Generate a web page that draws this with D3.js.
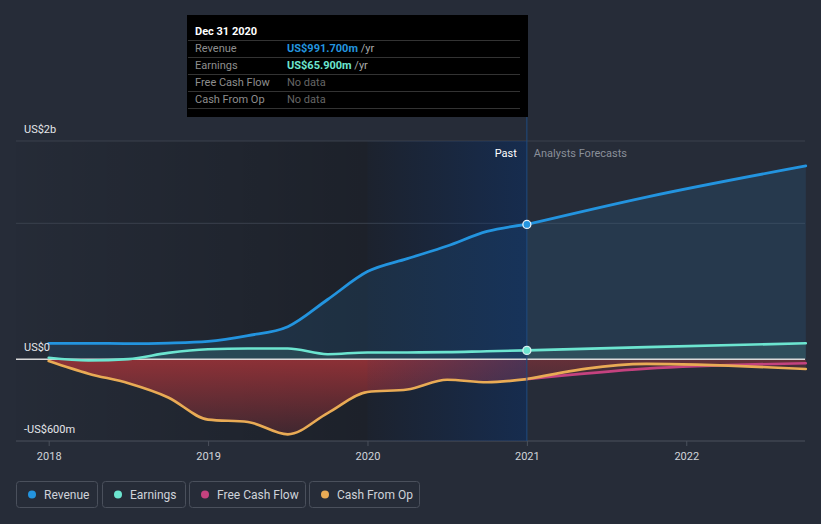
<!DOCTYPE html>
<html>
<head>
<meta charset="utf-8">
<script src="https://cdn.jsdelivr.net/npm/d3@7"></script>
<style>
  html, body { margin: 0; padding: 0; background: #262c38; }
  svg { display: block; font-family: Roboto, "Noto Sans", sans-serif; }
</style>
</head>
<body>
<svg id="chart" width="821" height="524"></svg>
<script>
// ---- data ----
const pastDates      = [2018, 2018.25, 2018.5, 2018.75, 2019, 2019.25, 2019.5, 2019.75, 2020, 2020.25, 2020.5, 2020.75, 2021];
const revenuePast    = [118, 118, 116, 120, 132, 175, 240, 440, 645, 740, 833, 940, 991.7];
const earningsPast   = [12, -8, 2, 48, 74, 80, 80, 38, 51, 51, 53, 60, 65.9];
const cashFromOpPast = [-12, -105, -176, -280, -443, -460, -551, -395, -240, -222, -150, -168, -145];

const forecastDates       = [2021, 2021.75, 2022.75];
const revenueForecast     = [991.7, 1193, 1422];
const earningsForecast    = [65.9, 90, 118];
const freeCashFlowForecast= [-145, -68, -29];
const cashFromOpForecast  = [-145, -33, -71];

const xTickValues = [2018, 2019, 2020, 2021, 2022];
const yTickValues = [1605, 1000, 0, -600];
const yTickLabels = ["US$2b", "", "US$0", "-US$600m"];

const legendNames  = ["Revenue", "Earnings", "Free Cash Flow", "Cash From Op"];
const legendColors = ["#2394df", "#6ce5d0", "#c4427f", "#e9ab55"];

const tooltipDate   = "Dec 31 2020";
const tooltipLabels = ["Revenue", "Earnings", "Free Cash Flow", "Cash From Op"];
const tooltipValues = ["US$991.700m", "US$65.900m", "No data", "No data"];

// ---- scales ----
const svg = d3.select("#chart");
const x = d3.scaleLinear().domain([2018, 2022.75]).range([48.7, 805.8]);
const y = d3.scaleLinear().domain([-600, 1605]).range([441, 141]);
const plotL = 16, plotR = 805, plotT = 141, plotB = 441;
const xNow = x(2021);

const zip = (d, v) => d.map((t, i) => ({t, v: v[i]}));

const defs = svg.append("defs");
const g1 = defs.append("linearGradient").attr("id", "pastDark").attr("x1", 0).attr("x2", 1).attr("y1", 0).attr("y2", 0);
g1.append("stop").attr("offset", "0").attr("stop-color", "#000").attr("stop-opacity", 0.02);
g1.append("stop").attr("offset", "0.68").attr("stop-color", "#000").attr("stop-opacity", 0.25);
g1.append("stop").attr("offset", "1").attr("stop-color", "#000").attr("stop-opacity", 0.25);

const g2 = defs.append("linearGradient").attr("id", "hilite").attr("x1", 0).attr("x2", 1).attr("y1", 0).attr("y2", 0);
g2.append("stop").attr("offset", "0").attr("stop-color", "#0f3773").attr("stop-opacity", 0.05);
g2.append("stop").attr("offset", "1").attr("stop-color", "#0f3773").attr("stop-opacity", 0.5);

const g3 = defs.append("linearGradient").attr("id", "redPast").attr("gradientUnits", "userSpaceOnUse")
  .attr("x1", 0).attr("x2", 0).attr("y1", y(0)).attr("y2", y(-600));
g3.append("stop").attr("offset", "0").attr("stop-color", "#a03338").attr("stop-opacity", 0.85);
g3.append("stop").attr("offset", "1").attr("stop-color", "#a03338").attr("stop-opacity", 0.2);

const g4 = defs.append("linearGradient").attr("id", "redFc").attr("gradientUnits", "userSpaceOnUse")
  .attr("x1", 0).attr("x2", 0).attr("y1", y(0)).attr("y2", y(-200));
g4.append("stop").attr("offset", "0").attr("stop-color", "#a03338").attr("stop-opacity", 0.3);
g4.append("stop").attr("offset", "1").attr("stop-color", "#a03338").attr("stop-opacity", 0.15);

// ---- background overlays ----
svg.append("rect").attr("x", plotL).attr("y", plotT).attr("width", xNow - plotL).attr("height", plotB - plotT)
  .attr("fill", "url(#pastDark)");

// gridlines
yTickValues.forEach(v => {
  if (v === 0) return;
  svg.append("line").attr("x1", plotL).attr("x2", plotR).attr("y1", y(v)).attr("y2", y(v))
    .attr("stroke", v === -600 ? "#4a505c" : "#3a404c").attr("stroke-width", 1);
});

// ---- areas ----
const area = d3.area().x(d => x(d.t)).y0(y(0)).y1(d => y(d.v)).curve(d3.curveMonotoneX);
const line = d3.line().x(d => x(d.t)).y(d => y(d.v)).curve(d3.curveMonotoneX);

svg.append("path").attr("d", area(zip(pastDates, revenuePast))).attr("fill", "#2394df").attr("fill-opacity", 0.13);
svg.append("path").attr("d", area(zip(forecastDates, revenueForecast))).attr("fill", "#2394df").attr("fill-opacity", 0.13);
svg.append("path").attr("d", area(zip(pastDates, earningsPast))).attr("fill", "#6ce5d0").attr("fill-opacity", 0.12);
svg.append("path").attr("d", area(zip(forecastDates, earningsForecast))).attr("fill", "#6ce5d0").attr("fill-opacity", 0.12);
svg.append("path").attr("d", area(zip(pastDates, cashFromOpPast))).attr("fill", "url(#redPast)");
svg.append("path").attr("d", area(zip(forecastDates, cashFromOpForecast))).attr("fill", "url(#redFc)");
svg.append("path").attr("d", area(zip(forecastDates, freeCashFlowForecast))).attr("fill", "url(#redFc)");

// highlight of last past year
svg.append("rect").attr("x", x(2020)).attr("y", plotT).attr("width", xNow - x(2020)).attr("height", plotB - plotT)
  .attr("fill", "url(#hilite)");

// zero line
svg.append("line").attr("x1", plotL).attr("x2", plotR).attr("y1", y(0)).attr("y2", y(0))
  .attr("stroke", "#d9d9d9").attr("stroke-width", 1.5);

// ---- lines ----
function drawLine(d, v, color, w) {
  svg.append("path").attr("d", line(zip(d, v))).attr("fill", "none")
    .attr("stroke", color).attr("stroke-width", w).attr("stroke-linecap", "round");
}
drawLine(pastDates, cashFromOpPast, "#e9ab55", 2.6);
drawLine(forecastDates, freeCashFlowForecast, "#c4427f", 2.6);
drawLine(forecastDates, cashFromOpForecast, "#e9ab55", 2.6);
drawLine(pastDates, earningsPast, "#6ce5d0", 2.6);
drawLine(forecastDates, earningsForecast, "#6ce5d0", 2.6);
drawLine(pastDates, revenuePast, "#2394df", 2.8);
drawLine(forecastDates, revenueForecast, "#2394df", 2.8);

// vertical "now" line
svg.append("line").attr("x1", xNow).attr("x2", xNow).attr("y1", 116).attr("y2", plotB)
  .attr("stroke", "#1f4c80").attr("stroke-width", 1);

// markers
svg.append("circle").attr("cx", xNow).attr("cy", y(revenuePast[revenuePast.length - 1])).attr("r", 4)
  .attr("fill", "#2394df").attr("stroke", "#e8f0f8").attr("stroke-width", 1.3);
svg.append("circle").attr("cx", xNow).attr("cy", y(earningsPast[earningsPast.length - 1])).attr("r", 4)
  .attr("fill", "#6ce5d0").attr("stroke", "#d8f0f0").attr("stroke-width", 1.3);

// ---- x axis ----
const xAxis = svg.append("g").attr("transform", `translate(0,${plotB})`)
  .call(d3.axisBottom(x).tickValues(xTickValues).tickFormat(d3.format("d")).tickSize(5).tickPadding(6));
xAxis.select(".domain").remove();
xAxis.selectAll(".tick line").attr("stroke", "#4a505c");
xAxis.selectAll(".tick text").attr("fill", "#d0d4da").attr("font-size", 11)
  .attr("font-family", "Roboto, sans-serif");

// ---- y labels ----
yTickValues.forEach((v, i) => {
  if (!yTickLabels[i]) return;
  svg.append("text").attr("x", 24).attr("y", y(v) - 8).text(yTickLabels[i])
    .attr("fill", "#e4e6ea").attr("font-size", 11);
});

// Past / Analysts Forecasts
svg.append("text").attr("x", xNow - 10).attr("y", 157).attr("text-anchor", "end")
  .attr("fill", "#ffffff").attr("font-size", 11).text("Past");
svg.append("text").attr("x", xNow + 7).attr("y", 157)
  .attr("fill", "#8a8f99").attr("font-size", 11).text("Analysts Forecasts");

// ---- tooltip ----
svg.append("rect").attr("x", 187).attr("y", 15).attr("width", 341).attr("height", 102).attr("fill", "#000");
svg.append("text").attr("x", 195).attr("y", 35).attr("fill", "#fff").attr("font-size", 11)
  .attr("font-weight", "bold").text(tooltipDate);
const rowY = [52, 69, 86, 103];
[40.5, 57.5, 74.5, 91.5, 108.5].forEach(ly => {
  svg.append("line").attr("x1", 188).attr("x2", 520).attr("y1", ly).attr("y2", ly)
    .attr("stroke", "#333").attr("stroke-width", 1);
});
const valColors = ["#2394df", "#6ce5d0", "#666", "#666"];
tooltipLabels.forEach((lab, i) => {
  svg.append("text").attr("x", 195).attr("y", rowY[i]).attr("fill", "#8e8e8e").attr("font-size", 11).text(lab);
  const t = svg.append("text").attr("x", 287).attr("y", rowY[i]).attr("font-size", 11);
  if (tooltipValues[i] === "No data") {
    t.append("tspan").attr("fill", "#666").text("No data");
  } else {
    t.append("tspan").attr("fill", valColors[i]).attr("font-weight", "bold").text(tooltipValues[i]);
    t.append("tspan").attr("fill", "#aaa").text(" /yr");
  }
});

// ---- legend ----
const legendX = [16, 102, 189, 309];
const legendW = [81, 83, 116, 110];
legendNames.forEach((n, i) => {
  const g = svg.append("g").attr("transform", `translate(${legendX[i]},481)`);
  g.append("rect").attr("x", 0.5).attr("y", 0.5).attr("width", legendW[i]).attr("height", 26).attr("rx", 3)
    .attr("fill", "none").attr("stroke", "#4a505c");
  g.append("circle").attr("cx", 16).attr("cy", 13.5).attr("r", 4).attr("fill", legendColors[i]);
  g.append("text").attr("x", 28).attr("y", 17.5).attr("fill", "#cfd3da").attr("font-size", 12).text(n);
});
</script>
</body>
</html>
